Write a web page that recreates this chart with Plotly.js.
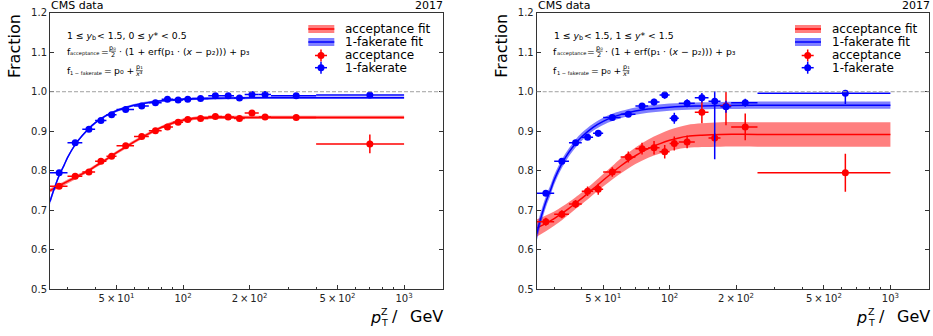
<!DOCTYPE html>
<html>
<head>
<meta charset="utf-8">
<script src="https://cdn.plot.ly/plotly-3.0.1.min.js"></script>
<style>html,body{margin:0;padding:0;background:#fff;}#chart{width:933px;height:336px;}</style>
</head>
<body>
<div id="chart"></div>
<script>
// ---------------- data ----------------
// Left panel: 1 <= y_b < 1.5, 0 <= y* < 0.5
const binLoL = [25,30,35,40,45,50,60,70,80,90,100,110,130,150,170,190,220,250,400];
const binHiL = [30,35,40,45,50,60,70,80,90,100,110,130,150,170,190,220,250,400,1000];
const accL      = [0.761,0.786,0.797,0.824,0.837,0.863,0.887,0.901,0.911,0.923,0.930,0.932,0.937,0.936,0.932,0.946,0.936,0.935,0.868];
const accErrL   = [0.004,0.004,0.004,0.004,0.004,0.004,0.004,0.004,0.004,0.004,0.004,0.004,0.004,0.005,0.005,0.006,0.005,0.004,0.024];
const fakeL     = [0.795,0.871,0.905,0.927,0.942,0.955,0.964,0.972,0.981,0.979,0.981,0.983,0.990,0.990,0.984,0.993,0.993,0.990,0.992];
const fakeErrL  = [0.004,0.004,0.003,0.003,0.003,0.003,0.003,0.003,0.003,0.003,0.003,0.003,0.003,0.003,0.004,0.004,0.004,0.003,0.004];

// Right panel: 1 <= y_b < 1.5, 1 <= y* < 1.5
const binLoR = [25,30,35,40,45,50,60,70,80,90,100,110,130,150,170,190,250];
const binHiR = [30,35,40,45,50,60,70,80,90,100,110,130,150,170,190,250,1000];
const accR       = [0.671,0.690,0.716,0.748,0.753,0.797,0.835,0.856,0.858,0.848,0.869,0.873,0.948,0.883,0.964,0.911,0.795];
const accErrUpR  = [0.010,0.010,0.010,0.012,0.014,0.012,0.014,0.015,0.017,0.017,0.018,0.016,0.028,0.012,0.035,0.034,0.048];
const accErrDnR  = [0.010,0.010,0.010,0.012,0.014,0.012,0.014,0.015,0.017,0.017,0.018,0.016,0.028,0.012,0.049,0.034,0.048];
const fakeR      = [0.743,0.824,0.871,0.885,0.895,0.935,0.943,0.964,0.974,0.992,0.933,0.971,0.985,0.976,0.962,0.972,0.996];
const fakeErrUpR = [0.006,0.006,0.006,0.007,0.008,0.006,0.006,0.007,0.008,0.010,0.014,0.010,0.012,0.025,0.015,0.010,0.008];
const fakeErrDnR = [0.006,0.006,0.006,0.007,0.008,0.006,0.006,0.007,0.008,0.010,0.014,0.010,0.012,0.147,0.015,0.010,0.027];

// Fit curves and band half-widths
const fitAccXL   = [25,27.5,30,32.5,35,37.5,40,45,50,55,60,70,80,90,100,110,120,140,170,250,1000];
const fitAccL    = [0.750,0.762,0.773,0.783,0.792,0.801,0.811,0.829,0.846,0.860,0.873,0.894,0.910,0.921,0.928,0.932,0.934,0.935,0.935,0.935,0.935];
const fitAccBL   = [0.005,0.005,0.005,0.005,0.004,0.004,0.004,0.004,0.004,0.004,0.004,0.004,0.004,0.004,0.004,0.004,0.004,0.004,0.004,0.004,0.004];
const fitFakeXL  = [25,26,27.5,29,30,32.5,35,37.5,40,45,50,55,60,70,80,100,130,170,250,400,1000];
const fitFakeL   = [0.722,0.751,0.788,0.815,0.833,0.866,0.889,0.907,0.921,0.940,0.952,0.960,0.966,0.973,0.977,0.981,0.983,0.984,0.985,0.985,0.985];
const fitFakeBL  = [0.007,0.006,0.005,0.004,0.004,0.003,0.003,0.003,0.003,0.003,0.003,0.003,0.003,0.003,0.003,0.003,0.003,0.003,0.003,0.003,0.003];

const fitAccXR   = [25,27.5,30,32.5,35,37.5,40,45,50,55,60,70,80,90,100,110,120,140,170,250,1000];
const fitAccR    = [0.655,0.667,0.679,0.692,0.705,0.718,0.730,0.754,0.776,0.795,0.812,0.838,0.856,0.868,0.877,0.883,0.887,0.890,0.892,0.892,0.892];
const fitAccBR   = [0.022,0.020,0.018,0.017,0.016,0.015,0.015,0.015,0.016,0.017,0.019,0.021,0.023,0.025,0.027,0.028,0.029,0.030,0.031,0.031,0.031];
const fitFakeXR  = [25,26,27.5,29,30,32.5,35,37.5,40,45,50,55,60,70,80,100,130,170,250,400,1000];
const fitFakeR   = [0.640,0.677,0.721,0.754,0.777,0.818,0.847,0.869,0.886,0.910,0.925,0.935,0.942,0.951,0.956,0.961,0.964,0.965,0.966,0.966,0.966];
const fitFakeBR  = [0.018,0.016,0.014,0.013,0.012,0.011,0.010,0.010,0.010,0.009,0.009,0.009,0.009,0.009,0.009,0.009,0.009,0.009,0.009,0.009,0.009];

// Axis ticks and texts
const xTickVals  = [50,100,200,500,1000];
const xTickText  = ['5\u2009×\u200910<sup>1</sup>','10<sup>2</sup>','2\u2009×\u200910<sup>2</sup>','5\u2009×\u200910<sup>2</sup>','10<sup>3</sup>'];
const xMinorVals = [30,40,60,70,80,90,300,400,600,700,800,900];
const yTickVals  = [0.5,0.6,0.7,0.8,0.9,1.0,1.1,1.2];
const regionStar = ['0 ≤ <i>y</i>* < 0.5', '1 ≤ <i>y</i>* < 1.5'];
const legendText = ['acceptance fit','1-fakerate fit','acceptance','1-fakerate'];

// ---------------- drawing ----------------
const W = 933, H = 336;
const FONT = 'DejaVu Sans, sans-serif';
const RED = '#ff0000', BLUE = '#0000ff';
const RED_BAND = 'rgba(255,0,0,0.5)', BLUE_BAND = 'rgba(0,0,255,0.5)';
const px = x => x / W, py = y => 1 - y / H;

const traces = [];
function addFit(xs, mid, half, color, band, xa, ya) {
  const lo = mid.map((v, i) => v - half[i]);
  const hi = mid.map((v, i) => v + half[i]);
  traces.push({x: xs, y: lo, xaxis: xa, yaxis: ya, mode: 'lines', line: {width: 0, shape: 'spline', color: band}, hoverinfo: 'skip', showlegend: false});
  traces.push({x: xs, y: hi, xaxis: xa, yaxis: ya, mode: 'lines', fill: 'tonexty', fillcolor: band, line: {width: 0, shape: 'spline', color: band}, hoverinfo: 'skip', showlegend: false});
  traces.push({x: xs, y: mid, xaxis: xa, yaxis: ya, mode: 'lines', line: {width: 1.5, shape: 'spline', color: color}, showlegend: false});
}
function addData(lo, hi, vals, up, dn, color, xa, ya) {
  const c = lo.map((l, i) => (l + hi[i]) / 2);
  traces.push({
    x: c, y: vals, xaxis: xa, yaxis: ya, mode: 'markers', showlegend: false,
    marker: {color: color, size: 7},
    error_x: {type: 'data', symmetric: false, array: hi.map((h, i) => h - c[i]), arrayminus: lo.map((l, i) => c[i] - l), color: color, thickness: 1.5, width: 0},
    error_y: {type: 'data', symmetric: false, array: up, arrayminus: dn, color: color, thickness: 1.5, width: 0}
  });
}

addFit(fitAccXL, fitAccL, fitAccBL, RED, RED_BAND, 'x', 'y');
addFit(fitFakeXL, fitFakeL, fitFakeBL, BLUE, BLUE_BAND, 'x', 'y');
addData(binLoL, binHiL, accL, accErrL, accErrL, RED, 'x', 'y');
addData(binLoL, binHiL, fakeL, fakeErrL, fakeErrL, BLUE, 'x', 'y');

addFit(fitAccXR, fitAccR, fitAccBR, RED, RED_BAND, 'x2', 'y2');
addFit(fitFakeXR, fitFakeR, fitFakeBR, BLUE, BLUE_BAND, 'x2', 'y2');
addData(binLoR, binHiR, accR, accErrUpR, accErrDnR, RED, 'x2', 'y2');
addData(binLoR, binHiR, fakeR, fakeErrUpR, fakeErrDnR, BLUE, 'x2', 'y2');

const annotations = [];
const shapes = [];
function T(x, y, text, size, xanchor, extra) {
  annotations.push(Object.assign({xref: 'paper', yref: 'paper', x: px(x), y: py(y), text: text, showarrow: false,
    xanchor: xanchor || 'left', yanchor: 'middle', borderpad: 0,
    font: {family: FONT, size: size, color: '#000'}}, extra || {}));
}
function L(x0, y0, x1, y1, color, width) {
  shapes.push({type: 'line', xref: 'paper', yref: 'paper', x0: px(x0), x1: px(x1), y0: py(y0), y1: py(y1), line: {color: color, width: width}});
}
function R(x0, y0, x1, y1, fill) {
  shapes.push({type: 'rect', xref: 'paper', yref: 'paper', x0: px(x0), x1: px(x1), y0: py(y0), y1: py(y1), fillcolor: fill, line: {width: 0}});
}
function C(cx, cy, r, fill) {
  shapes.push({type: 'circle', xref: 'paper', yref: 'paper', x0: px(cx - r), x1: px(cx + r), y0: py(cy - r), y1: py(cy + r), fillcolor: fill, line: {width: 0}});
}

// text measuring for the formula layout
const mctx = document.createElement('canvas').getContext('2d');
function tw(html, size) {
  mctx.font = size + 'px "DejaVu Sans"';
  return mctx.measureText(html.replace(/<[^>]+>/g, '')).width;
}
// segs: {t, s: rel size, dy: rel vertical offset, g: gap after (rel em)} or {num, den, s, g}
function segWidth(sg, base) {
  if (sg.num) return Math.max(tw(sg.num, base * sg.s), tw(sg.den, base * sg.s)) + 0.1 * base;
  return tw(sg.t, base * sg.s);
}
function lineWidth(segs, base) {
  return segs.reduce((a, sg) => a + segWidth(sg, base) + (sg.g || 0) * base, 0);
}
function drawLine(x0, yc, segs, base) {
  let x = x0;
  segs.forEach(sg => {
    const w = segWidth(sg, base);
    if (sg.num) {
      const cx = x + w / 2;
      T(cx, yc - 0.36 * base, sg.num, base * sg.s, 'center');
      T(cx, yc + 0.40 * base, sg.den, base * sg.s, 'center');
      L(x + 0.05 * base, yc + 0.02 * base, x + w - 0.05 * base, yc + 0.02 * base, '#000', 0.6);
    } else {
      T(x, yc + (sg.dy || 0) * base, sg.t, base * sg.s, 'left');
    }
    x += w + (sg.g || 0) * base;
  });
}

const panelLeft = [50, 536.7];
panelLeft.forEach((x0, k) => {
  const dx = x0 - 50;
  const xr = k === 0 ? 'x' : 'x2', yr = k === 0 ? 'y' : 'y2';
  // dashed line at 1.0
  shapes.push({type: 'line', xref: xr + ' domain', yref: yr, x0: 0, x1: 1, y0: 1, y1: 1, line: {color: '#a0a0a0', width: 1, dash: '4px,2px'}});
  // header
  T(50 + dx, 5.5, 'CMS data', 11, 'left');
  T(444 + dx, 5.5, '2017', 11, 'right');
  // y label
  T(15 + dx, 46, 'Fraction', 16, 'center', {textangle: -90});
  // x label
  T(375 + dx, 317, '<i>p</i>', 16, 'center');
  T(384.5 + dx, 311.5, 'Z', 9.5, 'center');
  T(384.5 + dx, 322.5, 'T', 9.5, 'center');
  T(395 + dx, 316, '/', 16, 'center');
  T(444 + dx, 316, 'GeV', 16, 'right');

  // region + formulas, laid out so the acceptance formula spans the reference width
  const line1 = [
    {t: '1 ≤ <i>y</i>', s: 1}, {t: 'b', s: 0.7, dy: 0.25, g: 0.1},
    {t: '< 1.5, ' + regionStar[k], s: 1}
  ];
  const line2 = [
    {t: 'f', s: 1, g: 0.02}, {t: 'acceptance', s: 0.55, dy: 0.28, g: 0.12},
    {t: '=', s: 1, g: 0.15},
    {num: 'p₀', den: '2', s: 0.7, g: 0.15},
    {t: '· (1 + erf(p₁ · (<i>x</i> − p₂))) + p₃', s: 1}
  ];
  const line3 = [
    {t: 'f', s: 1, g: 0.02}, {t: '1 − fakerate', s: 0.55, dy: 0.28, g: 0.22},
    {t: '=', s: 1, g: 0.25},
    {t: 'p₀ +', s: 1, g: 0.22},
    {num: 'p₁', den: '<i>x</i>³', s: 0.7}
  ];
  const base = 10 * 183 / lineWidth(line2, 10);
  drawLine(66 + dx, 36, line1, base);
  drawLine(65.5 + dx, 51, line2, base);
  drawLine(65.5 + dx, 70.5, line3, base);

  // legend
  const ls = 308.3 + dx, le = 334.3 + dx, lt = 344 + dx, lc = 321 + dx;
  const rows = [29, 42, 55.5, 67.7];
  R(ls, rows[0] - 4, le, rows[0] + 4, RED_BAND); L(ls, rows[0], le, rows[0], RED, 1.5);
  R(ls, rows[1] - 4, le, rows[1] + 4, BLUE_BAND); L(ls, rows[1], le, rows[1], BLUE, 1.5);
  L(lc - 6, rows[2], lc + 6, rows[2], RED, 1.5); L(lc, rows[2] - 6, lc, rows[2] + 6, RED, 1.5); C(lc, rows[2], 3.5, RED);
  L(lc - 6, rows[3], lc + 6, rows[3], BLUE, 1.5); L(lc, rows[3] - 6, lc, rows[3] + 6, BLUE, 1.5); C(lc, rows[3], 3.5, BLUE);
  rows.forEach((ry, i) => T(lt, ry, legendText[i], 12, 'left'));
});

const xBase = {
  type: 'log', range: [Math.log10(25), Math.log10(1500)],
  tickmode: 'array', tickvals: xTickVals, ticktext: xTickText,
  ticks: 'inside', ticklen: 4, tickwidth: 1, tickcolor: '#333',
  minor: {tickmode: 'array', tickvals: xMinorVals, ticks: 'inside', ticklen: 2, tickwidth: 1, tickcolor: '#333', showgrid: false},
  showline: true, linecolor: '#333', linewidth: 1, mirror: true,
  showgrid: false, zeroline: false, tickfont: {family: FONT, size: 10, color: '#222'}
};
const yBase = {
  range: [0.5, 1.2], tickmode: 'array', tickvals: yTickVals, tickformat: '.1f',
  ticks: 'inside', ticklen: 4, tickwidth: 1, tickcolor: '#333',
  showline: true, linecolor: '#333', linewidth: 1, mirror: 'ticks',
  showgrid: false, zeroline: false, tickfont: {family: FONT, size: 10, color: '#222'}
};
const yDom = [1 - 289.3 / H, 1 - 12.7 / H];
const layout = {
  width: W, height: H, margin: {l: 0, r: 0, t: 0, b: 0},
  paper_bgcolor: '#fff', plot_bgcolor: '#fff', showlegend: false,
  font: {family: FONT},
  xaxis: Object.assign({}, xBase, {domain: [50 / W, 443 / W], anchor: 'y'}),
  yaxis: Object.assign({}, yBase, {domain: yDom, anchor: 'x'}),
  xaxis2: Object.assign({}, xBase, {domain: [536.7 / W, 929.3 / W], anchor: 'y2'}),
  yaxis2: Object.assign({}, yBase, {domain: yDom, anchor: 'x2'}),
  annotations: annotations, shapes: shapes
};
Plotly.newPlot('chart', traces, layout, {staticPlot: true, displayModeBar: false});
</script>
</body>
</html>
